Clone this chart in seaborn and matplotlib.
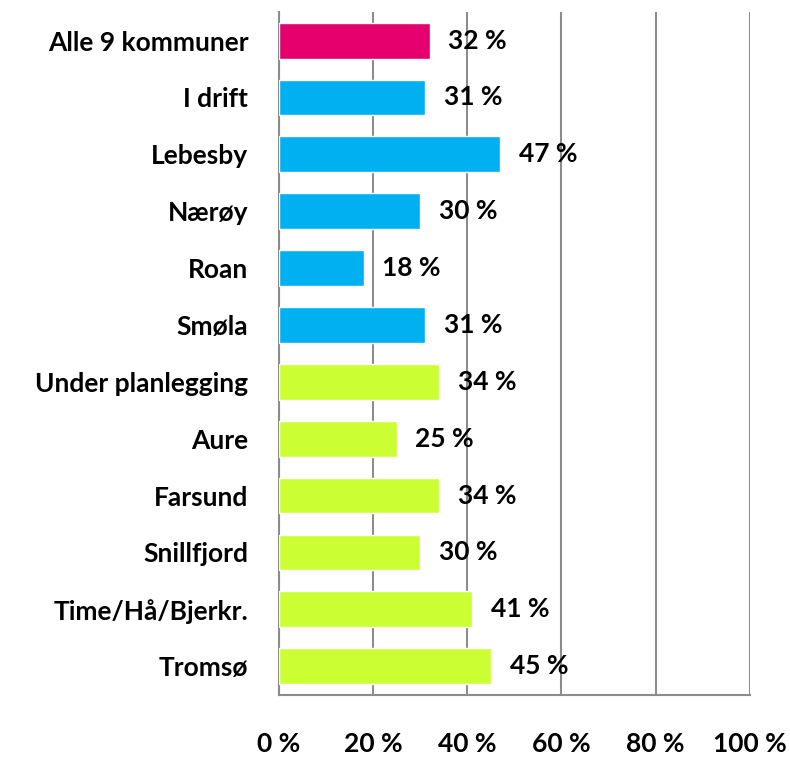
import matplotlib
matplotlib.use("Agg")
import matplotlib.pyplot as plt
import numpy as np
import pandas as pd
import seaborn as sns

categories = ["Alle 9 kommuner", "I drift", "Lebesby", "Nærøy", "Roan", "Smøla",
              "Under planlegging", "Aure", "Farsund", "Snillfjord",
              "Time/Hå/Bjerkr.", "Tromsø"]
values = [32, 31, 47, 30, 18, 31, 34, 25, 34, 30, 41, 45]
groups = ["alle", "drift", "drift", "drift", "drift", "drift",
          "plan", "plan", "plan", "plan", "plan", "plan"]
group_colors = {"alle": "#E5006E", "drift": "#00B0F0", "plan": "#CCFF33"}
xticks = [0, 20, 40, 60, 80, 100]

df = pd.DataFrame({"category": categories, "value": values, "group": groups})

sns.set_style("white")
plt.rcParams["font.family"] = ["Lato", "DejaVu Sans"]
plt.rcParams["text.color"] = "black"
plt.rcParams["xtick.labelcolor"] = "black"
plt.rcParams["ytick.labelcolor"] = "black"

fig = plt.figure(figsize=(7.9, 7.6), dpi=100)
ax = fig.add_axes([0.353, 0.086, 0.596, 0.898])

sns.barplot(data=df, x="value", y="category", hue="group", palette=group_colors,
            saturation=1, dodge=False, width=0.63, legend=False, ax=ax, zorder=3)

ax.set_xlim(0, 100)
ax.set_ylim(len(categories) - 0.5, -0.5)
ax.set_xticks(xticks)
ax.set_xticklabels([f"{t} %" for t in xticks], fontsize=19, fontweight="bold")
ax.set_yticklabels(categories, fontsize=19, fontweight="bold")
ax.set_xlabel("")
ax.set_ylabel("")

ax.grid(axis="x", color="#8c8c8c", linewidth=1.5, zorder=0)
ax.grid(axis="y", visible=False)
for s in ["top", "right"]:
    ax.spines[s].set_visible(False)
for s in ["left", "bottom"]:
    ax.spines[s].set_color("#8c8c8c")
    ax.spines[s].set_linewidth(1.5)

ax.tick_params(axis="x", direction="out", length=11, width=1.5, color="#8c8c8c",
               pad=16, labelcolor="black")
ax.tick_params(axis="y", which="major", length=0, pad=22, labelcolor="black")
ax.set_yticks(np.arange(-0.5, len(categories), 1), minor=True)
ax.tick_params(axis="y", which="minor", direction="out", length=8, width=1.5, color="#8c8c8c")

for i, v in enumerate(values):
    ax.text(v + 4, i, f"{v} %", va="center", ha="left", fontsize=19,
            fontweight="bold", color="black")

fig.savefig("out.png", dpi=100)
